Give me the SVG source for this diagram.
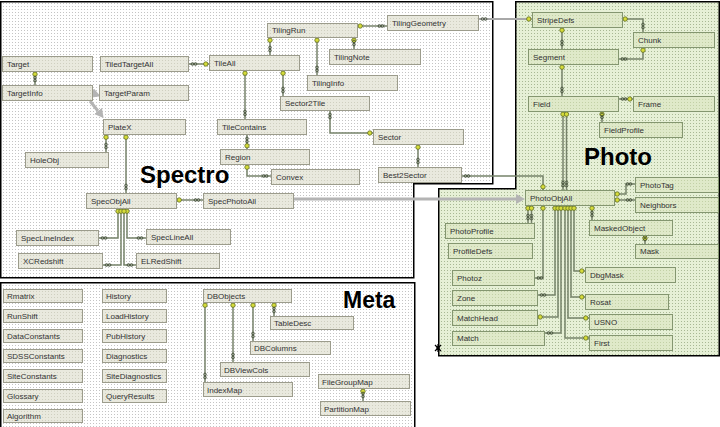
<svg xmlns="http://www.w3.org/2000/svg" width="720" height="427" viewBox="0 0 720 427">
<defs>
<pattern id="dotW" width="3" height="3" patternUnits="userSpaceOnUse"><rect width="3" height="3" fill="#ffffff"/><rect width="1" height="1" fill="#c4c4c4"/></pattern>
<pattern id="dotG" width="3" height="3" patternUnits="userSpaceOnUse"><rect width="3" height="3" fill="#e6f0d6"/><rect width="1" height="1" fill="#a8b894"/></pattern>
<pattern id="boxS" width="3" height="3" patternUnits="userSpaceOnUse"><rect width="3" height="3" fill="#e9e9de"/><rect width="1" height="1" fill="#cfcfc0"/></pattern>
<pattern id="boxP" width="3" height="3" patternUnits="userSpaceOnUse"><rect width="3" height="3" fill="#dfe9c9"/><rect width="1" height="1" fill="#c2d0a6"/></pattern>
<marker id="key" markerUnits="userSpaceOnUse" markerWidth="10" markerHeight="10" viewBox="-1 -5 10 10" refX="0" refY="0" orient="auto" overflow="visible">
<circle cx="3.2" cy="0" r="2.2" fill="#d6dc3a" stroke="#5e6c26" stroke-width="0.8"/>
</marker>
<marker id="inf" markerUnits="userSpaceOnUse" markerWidth="12" markerHeight="6" viewBox="-10 -3 12 6" refX="0" refY="0" orient="auto" overflow="visible">
<circle cx="-7.5" cy="0" r="1.4" fill="none" stroke="#3e4a34" stroke-width="0.8"/>
<circle cx="-4.5" cy="0" r="1.4" fill="none" stroke="#3e4a34" stroke-width="0.8"/>
</marker>
<marker id="keyE" markerUnits="userSpaceOnUse" markerWidth="10" markerHeight="10" viewBox="-9 -5 10 10" refX="0" refY="0" orient="auto" overflow="visible">
<circle cx="-3.2" cy="0" r="2.2" fill="#d6dc3a" stroke="#5e6c26" stroke-width="0.8"/>
</marker>
<marker id="arr" markerUnits="userSpaceOnUse" markerWidth="9" markerHeight="10" viewBox="0 0 9 10" refX="0" refY="5" orient="auto">
<path d="M0,0 L9,5 L0,10 Z" fill="#b4b4b4"/>
</marker>
<style>
.panel { stroke:#000; stroke-width:1.5 }
.n rect { fill:url(#boxS); stroke:#9c9c8c; stroke-width:1 }
.p rect { fill:url(#boxP); stroke:#849670; stroke-width:1 }
.n text, .p text { font-family:"Liberation Sans", Arial, sans-serif; font-size:8px; fill:#333 }
.title { font-family:"Liberation Sans", Arial, sans-serif; font-weight:bold; fill:#000 }
.c path { fill:none; stroke:#76826a; stroke-width:1.5; marker-start:url(#key); marker-end:url(#inf) }
.c path.kk { marker-end:url(#keyE) }
.c path.g { stroke:#a8a8a8; stroke-width:2 }
.x path { fill:none; stroke:#b4b4b4; stroke-width:3; marker-end:url(#arr) }
</style>
</defs>
<rect width="720" height="427" fill="#ffffff"/>
<g id="panels">
<path class="panel" d="M0.75,1.75 H492.75 V183.75 H413.75 V277.75 H0.75 Z" fill="url(#dotW)"/>
<path class="panel" d="M0.75,282.75 H414.75 V432 H0.75 Z" fill="url(#dotW)"/>
<path class="panel" d="M515.75,1.75 H719.25 V355.75 H438.75 V188.75 H515.75 Z" fill="url(#dotG)"/>
<text class="title" x="140" y="183" font-size="24">Spectro</text>
<text class="title" x="584" y="165" font-size="24">Photo</text>
<text class="title" x="343" y="308" font-size="23">Meta</text>
<g stroke="#000" stroke-width="1.2"><path d="M435,345 L441,351 M441,345 L435,351 M438,344 V352"/></g>
<rect x="436.5" y="346.5" width="3" height="3" fill="#000"/>
</g>
<g id="connectors">
<g class="x">
<path d="M293,199 H516"/>
<path d="M84,90 L92,93"/>
<path d="M90,101 L98,111"/>
</g>
<g class="c">
<path d="M35,71 V85"/>
<path d="M209,64 H188"/>
<path d="M357,26 H387"/>
<path d="M270,37 V55"/>
<path d="M317,37 V75"/>
<path d="M354,37 V49"/>
<path d="M245,70 V119"/>
<path d="M283,70 V96"/>
<path d="M373,133 H330 V110"/>
<path d="M247,149 V134"/>
<path d="M247,164 V176 H271"/>
<path d="M418,144 V167"/>
<path d="M543,190 V176 H461"/>
<path d="M106,134 V152"/>
<path d="M126,134 V193"/>
<path d="M176,200 H203"/>
<path d="M118,208 V238 H98"/>
<path d="M127,208 V238 H146"/>
<path d="M121,208 V265 H102"/>
<path d="M124,208 V265 H136"/>
<path class="g" d="M532,19 H478"/>
<path d="M622,19 H643 V32"/>
<path d="M562,27 V49"/>
<path d="M643,47 V59 H618"/>
<path d="M562,64 V96"/>
<path d="M633,99 H618"/>
<path d="M602,111 V122"/>
<path d="M563,111 V190"/>
<path d="M566.5,111 V190"/>
<path d="M614,194 H626 V184 H635"/>
<path d="M614,200 H635"/>
<path d="M592,205 V220"/>
<path d="M645,235 V244"/>
<path d="M528,205 V223"/>
<path d="M531.5,205 V223"/>
<path d="M543,205 V278 H534"/>
<path d="M555,205 V295 H537"/>
<path class="kk" d="M558,205 V317 H537"/>
<path d="M561,205 V333 H544"/>
<path class="kk" d="M565,205 V338 H589"/>
<path class="kk" d="M568,205 V318 H589"/>
<path class="kk" d="M571,205 V297 H585"/>
<path class="kk" d="M574,205 V271 H585"/>
<path d="M205,302 V382"/>
<path d="M233,302 V362"/>
<path d="M253,302 V341"/>
<path d="M274,302 V316"/>
<path d="M363,388 V401"/>
</g>
</g>
<g id="spectro-nodes">
<g id="Target" class="n"><rect x="2.5" y="56.5" width="90" height="15"/><text x="7" y="67">Target</text></g>
<g id="TiledTargetAll" class="n"><rect x="100.5" y="56.5" width="88" height="15"/><text x="105" y="67">TiledTargetAll</text></g>
<g id="TileAll" class="n"><rect x="209.5" y="55.5" width="90" height="15"/><text x="214" y="66">TileAll</text></g>
<g id="TilingRun" class="n"><rect x="267.5" y="23.5" width="90" height="14"/><text x="272" y="33">TilingRun</text></g>
<g id="TilingGeometry" class="n"><rect x="387.5" y="15.5" width="91" height="15"/><text x="392" y="26">TilingGeometry</text></g>
<g id="TilingNote" class="n"><rect x="329.5" y="49.5" width="91" height="15"/><text x="334" y="60">TilingNote</text></g>
<g id="TilingInfo" class="n"><rect x="307.5" y="75.5" width="90" height="15"/><text x="312" y="86">TilingInfo</text></g>
<g id="Sector2Tile" class="n"><rect x="280.5" y="96.5" width="89" height="14"/><text x="285" y="106">Sector2Tile</text></g>
<g id="TargetInfo" class="n"><rect x="2.5" y="85.5" width="90" height="15"/><text x="7" y="96">TargetInfo</text></g>
<g id="TargetParam" class="n"><rect x="99.5" y="85.5" width="89" height="15"/><text x="104" y="96">TargetParam</text></g>
<g id="PlateX" class="n"><rect x="103.5" y="119.5" width="82" height="15"/><text x="108" y="130">PlateX</text></g>
<g id="TileContains" class="n"><rect x="217.5" y="119.5" width="89" height="15"/><text x="222" y="130">TileContains</text></g>
<g id="Sector" class="n"><rect x="373.5" y="129.5" width="90" height="15"/><text x="378" y="140">Sector</text></g>
<g id="Region" class="n"><rect x="220.5" y="149.5" width="89" height="15"/><text x="225" y="160">Region</text></g>
<g id="HoleObj" class="n"><rect x="25.5" y="152.5" width="83" height="15"/><text x="30" y="163">HoleObj</text></g>
<g id="Convex" class="n"><rect x="271.5" y="169.5" width="88" height="15"/><text x="276" y="180">Convex</text></g>
<g id="Best2Sector" class="n"><rect x="378.5" y="167.5" width="83" height="15"/><text x="383" y="178">Best2Sector</text></g>
<g id="SpecObjAll" class="n"><rect x="86.5" y="193.5" width="90" height="15"/><text x="91" y="204">SpecObjAll</text></g>
<g id="SpecPhotoAll" class="n"><rect x="203.5" y="193.5" width="90" height="15"/><text x="208" y="204">SpecPhotoAll</text></g>
<g id="SpecLineIndex" class="n"><rect x="16.5" y="230.5" width="82" height="15"/><text x="21" y="241">SpecLineIndex</text></g>
<g id="SpecLineAll" class="n"><rect x="146.5" y="229.5" width="84" height="15"/><text x="151" y="240">SpecLineAll</text></g>
<g id="XCRedshift" class="n"><rect x="18.5" y="253.5" width="84" height="15"/><text x="23" y="264">XCRedshift</text></g>
<g id="ELRedShift" class="n"><rect x="136.5" y="253.5" width="83" height="15"/><text x="141" y="264">ELRedShift</text></g>
</g>
<g id="photo-nodes">
<g id="StripeDefs" class="p"><rect x="532.5" y="12.5" width="90" height="15"/><text x="537" y="23">StripeDefs</text></g>
<g id="Chunk" class="p"><rect x="633.5" y="32.5" width="81" height="15"/><text x="638" y="43">Chunk</text></g>
<g id="Segment" class="p"><rect x="528.5" y="49.5" width="90" height="15"/><text x="533" y="60">Segment</text></g>
<g id="Field" class="p"><rect x="528.5" y="96.5" width="90" height="15"/><text x="533" y="107">Field</text></g>
<g id="Frame" class="p"><rect x="633.5" y="96.5" width="81" height="15"/><text x="638" y="107">Frame</text></g>
<g id="FieldProfile" class="p"><rect x="599.5" y="122.5" width="83" height="15"/><text x="604" y="133">FieldProfile</text></g>
<g id="PhotoTag" class="p"><rect x="635.5" y="177.5" width="83" height="15"/><text x="640" y="188">PhotoTag</text></g>
<g id="PhotoObjAll" class="p"><rect x="525.5" y="190.5" width="89" height="15"/><text x="530" y="201">PhotoObjAll</text></g>
<g id="Neighbors" class="p"><rect x="635.5" y="197.5" width="83" height="15"/><text x="640" y="208">Neighbors</text></g>
<g id="MaskedObject" class="p"><rect x="589.5" y="220.5" width="83" height="15"/><text x="594" y="231">MaskedObject</text></g>
<g id="PhotoProfile" class="p"><rect x="445.5" y="223.5" width="89" height="15"/><text x="450" y="234">PhotoProfile</text></g>
<g id="ProfileDefs" class="p"><rect x="448.5" y="243.5" width="84" height="15"/><text x="453" y="254">ProfileDefs</text></g>
<g id="Mask" class="p"><rect x="635.5" y="244.5" width="83" height="14"/><text x="640" y="254">Mask</text></g>
<g id="DbgMask" class="p"><rect x="585.5" y="267.5" width="90" height="15"/><text x="590" y="278">DbgMask</text></g>
<g id="Photoz" class="p"><rect x="452.5" y="270.5" width="82" height="15"/><text x="457" y="281">Photoz</text></g>
<g id="Zone" class="p"><rect x="452.5" y="290.5" width="85" height="15"/><text x="457" y="301">Zone</text></g>
<g id="Rosat" class="p"><rect x="585.5" y="294.5" width="83" height="15"/><text x="590" y="305">Rosat</text></g>
<g id="MatchHead" class="p"><rect x="452.5" y="310.5" width="85" height="15"/><text x="457" y="321">MatchHead</text></g>
<g id="USNO" class="p"><rect x="589.5" y="314.5" width="83" height="15"/><text x="594" y="325">USNO</text></g>
<g id="Match" class="p"><rect x="452.5" y="331.5" width="92" height="14"/><text x="457" y="341">Match</text></g>
<g id="First" class="p"><rect x="589.5" y="335.5" width="83" height="15"/><text x="594" y="346">First</text></g>
</g>
<g id="meta-nodes">
<g id="Rmatrix" class="n"><rect x="3.5" y="289.5" width="79" height="13"/><text x="7" y="299">Rmatrix</text></g>
<g id="RunShift" class="n"><rect x="3.5" y="309.5" width="79" height="13"/><text x="7" y="319">RunShift</text></g>
<g id="DataConstants" class="n"><rect x="3.5" y="329.5" width="79" height="13"/><text x="7" y="339">DataConstants</text></g>
<g id="SDSSConstants" class="n"><rect x="3.5" y="349.5" width="79" height="13"/><text x="7" y="359">SDSSConstants</text></g>
<g id="SiteConstants" class="n"><rect x="3.5" y="369.5" width="79" height="13"/><text x="7" y="379">SiteConstants</text></g>
<g id="Glossary" class="n"><rect x="3.5" y="389.5" width="79" height="13"/><text x="7" y="399">Glossary</text></g>
<g id="Algorithm" class="n"><rect x="3.5" y="409.5" width="79" height="13"/><text x="7" y="419">Algorithm</text></g>
<g id="History" class="n"><rect x="102.5" y="289.5" width="64" height="13"/><text x="106" y="299">History</text></g>
<g id="LoadHistory" class="n"><rect x="102.5" y="309.5" width="64" height="13"/><text x="106" y="319">LoadHistory</text></g>
<g id="PubHistory" class="n"><rect x="102.5" y="329.5" width="64" height="13"/><text x="106" y="339">PubHistory</text></g>
<g id="Diagnostics" class="n"><rect x="102.5" y="349.5" width="64" height="13"/><text x="106" y="359">Diagnostics</text></g>
<g id="SiteDiagnostics" class="n"><rect x="102.5" y="369.5" width="64" height="13"/><text x="106" y="379">SiteDiagnostics</text></g>
<g id="QueryResults" class="n"><rect x="102.5" y="389.5" width="64" height="13"/><text x="106" y="399">QueryResults</text></g>
<g id="DBObjects" class="n"><rect x="203.5" y="289.5" width="88" height="13"/><text x="207" y="299">DBObjects</text></g>
<g id="TableDesc" class="n"><rect x="270.5" y="316.5" width="83" height="13"/><text x="274" y="326">TableDesc</text></g>
<g id="DBColumns" class="n"><rect x="250.5" y="341.5" width="80" height="13"/><text x="254" y="351">DBColumns</text></g>
<g id="DBViewCols" class="n"><rect x="220.5" y="362.5" width="89" height="14"/><text x="224" y="373">DBViewCols</text></g>
<g id="IndexMap" class="n"><rect x="203.5" y="382.5" width="89" height="14"/><text x="207" y="393">IndexMap</text></g>
<g id="FileGroupMap" class="n"><rect x="318.5" y="374.5" width="91" height="14"/><text x="322" y="385">FileGroupMap</text></g>
<g id="PartitionMap" class="n"><rect x="320.5" y="401.5" width="90" height="14"/><text x="324" y="412">PartitionMap</text></g>
</g>
</svg>
